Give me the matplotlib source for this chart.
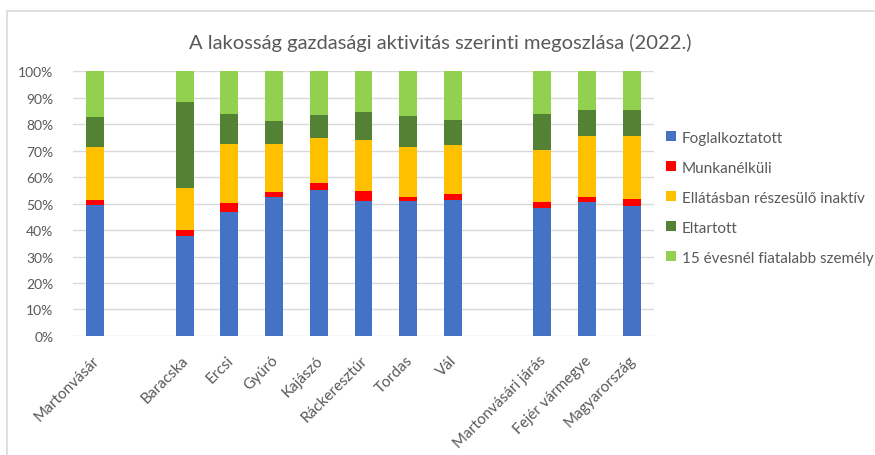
import numpy as np
import matplotlib
matplotlib.use("Agg")
import matplotlib.pyplot as plt
import matplotlib.transforms as mtransforms
from matplotlib.patches import Rectangle
from matplotlib.ticker import PercentFormatter

plt.rcParams['font.family'] = ['Lato', 'DejaVu Sans']

# ---------------------------
# Data (shares in %)
# ---------------------------
town = ['Martonvásár']
villages = ['Baracska', 'Ercsi', 'Gyúró', 'Kajászó', 'Ráckeresztúr', 'Tordas', 'Vál']
regions = ['Martonvásári járás', 'Fejér vármegye', 'Magyarország']

series_names = ['Foglalkoztatott', 'Munkanélküli', 'Ellátásban részesülő inaktív',
                'Eltartott', '15 évesnél fiatalabb személy']

foglalkoztatott = [49.6, 37.7, 46.9, 52.6, 55.2, 51.1, 51.1, 51.5, 48.2, 50.5, 49.2]
munkanelkuli    = [1.7, 2.2, 3.4, 1.7, 2.5, 3.5, 1.5, 2.0, 2.3, 2.1, 2.4]
inaktiv         = [20.2, 15.8, 22.2, 18.2, 16.9, 19.3, 18.6, 18.7, 19.7, 23.0, 23.7]
eltartott       = [11.2, 32.5, 11.3, 8.5, 8.8, 10.5, 11.8, 9.5, 13.6, 9.6, 10.1]
fiatal          = [17.3, 11.8, 16.2, 19.0, 16.6, 15.6, 17.0, 18.3, 16.2, 14.8, 14.6]

colors = ['#4472C4', '#FF0000', '#FFC000', '#548235', '#92D050']
text_color = '#595959'

# x positions: one empty slot between the groups
labels = []
xpos = []
slot = 0
for group in [town, villages, regions]:
    for name in group:
        labels.append(name)
        xpos.append(slot)
        slot += 1
    slot += 1
xpos = np.array(xpos)

# ---------------------------
# Plot
# ---------------------------
fig = plt.figure(figsize=(8.75, 4.56), dpi=100)
ax = fig.add_axes([0.0834, 0.261, 0.664, 0.581])

bottom = np.zeros(len(labels))
for name, vals, col in zip(series_names,
                           [foglalkoztatott, munkanelkuli, inaktiv, eltartott, fiatal],
                           colors):
    vals = np.array(vals)
    ax.bar(xpos, vals, bottom=bottom, width=0.4, color=col, label=name, zorder=3)
    bottom += vals

ax.set_xlim(-0.5, xpos[-1] + 0.5)
ax.set_ylim(0, 100)
ax.set_yticks(np.arange(0, 101, 10))
ax.yaxis.set_major_formatter(PercentFormatter(decimals=0))
ax.grid(axis='y', color='#D9D9D9', linewidth=1, zorder=0)
for s in ax.spines.values():
    s.set_visible(False)
ax.tick_params(axis='both', length=0, colors=text_color, labelsize=10)
ax.tick_params(axis='y', pad=14)
ax.set_xticks(xpos)
ax.set_xticklabels(labels, rotation=45, ha='right', rotation_mode='anchor')
ax.tick_params(axis='x', pad=12, labelsize=11)
shift = mtransforms.ScaledTranslation(-3 / 100, 0, fig.dpi_scale_trans)
for lbl in ax.get_xticklabels():
    lbl.set_transform(lbl.get_transform() + shift)

fig.suptitle('A lakosság gazdasági aktivitás szerinti megoszlása (2022.)',
             x=0.503, y=0.925, fontsize=14.5, color=text_color)

leg = ax.legend(loc='upper left', bbox_to_anchor=(0.754, 0.725),
                bbox_transform=fig.transFigure, frameon=False, fontsize=11,
                handlelength=0.65, handleheight=0.65, handletextpad=0.4,
                labelspacing=1.05, borderaxespad=0)
for t in leg.get_texts():
    t.set_color(text_color)

# chart frame (only left and top edges are inside the picture)
fig.patches.append(Rectangle((7 / 875, -0.1), 1.2, (456 - 12) / 456 + 0.1,
                             transform=fig.transFigure, fill=False,
                             edgecolor='#D9D9D9', linewidth=1.2))

fig.savefig('out.png', dpi=100)
